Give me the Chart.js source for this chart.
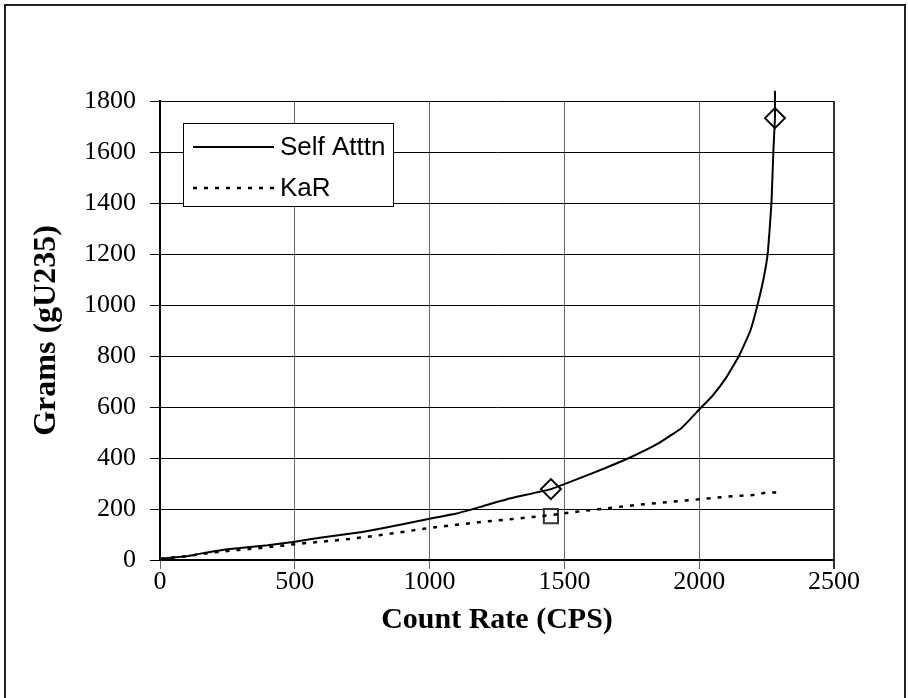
<!DOCTYPE html>
<html>
<head>
<meta charset="utf-8">
<script src="https://cdn.jsdelivr.net/npm/chart.js@4.4.1/dist/chart.umd.min.js"></script>
<style>
  body { margin: 0; background: #fff; }
  #wrap { position: relative; width: 908px; height: 698px; overflow: hidden; }
  #frame { position: absolute; left: 4px; top: 4px; width: 898px; height: 720px;
           border: 2px solid #222; border-bottom: none; }
  canvas { position: absolute; left: 0; top: 0; }
</style>
</head>
<body>
<div id="wrap">
  <div id="frame"></div>
  <canvas id="lineChart" width="908" height="698"></canvas>
</div>
<script>
// Self attenuation curve (count rate, grams)
var selfRate  = [0, 100, 150, 250, 400, 500, 600, 750, 900, 1000, 1100, 1200, 1300, 1450, 1550, 1650, 1750, 1850, 1935, 2000, 2050, 2100, 2150, 2190, 2215, 2240, 2255, 2268, 2275, 2281];
var selfGrams = [5, 15, 25, 42, 58, 72, 88, 110, 140, 162, 182, 212, 242, 278, 318, 360, 405, 458, 518, 590, 645, 715, 805, 900, 995, 1110, 1210, 1400, 1600, 1733];

// KaR curve
var karRate  = [0, 100, 200, 300, 400, 500, 600, 700, 800, 900, 1000, 1100, 1200, 1300, 1450, 1550, 1650, 1750, 1850, 2000, 2100, 2200, 2250, 2310];
var karGrams = [5, 15, 30, 40, 50, 62, 72, 82, 95, 110, 126, 138, 150, 160, 176, 190, 202, 214, 224, 238, 248, 255, 265, 265];

// marked points
var diamondRate  = [1450, 2281];
var diamondGrams = [278, 1733];
var squareRate  = [1450];
var squareGrams = [172];
// error bar above the top diamond
var barRate  = [2281, 2281];
var barGrams = [1733, 1840];

var xTicks = [0, 500, 1000, 1500, 2000, 2500];

function pts(xs, ys) {
    var out = [];
    for (var i = 0; i < xs.length; i++) {
        out.push({x: xs[i], y: ys[i]});
    }
    return out;
}

var serif = '"Liberation Serif", "Times New Roman", serif';

// legend box drawn inside the plot, like the original
const boxLegend = {
    id: 'boxLegend',
    afterDraw(chart) {
        const ctx = chart.ctx;
        ctx.save();
        ctx.fillStyle = '#fff';
        ctx.fillRect(183, 123, 211, 84);
        ctx.strokeStyle = '#000';
        ctx.lineWidth = 1;
        ctx.strokeRect(183.5, 123.5, 210, 83);

        ctx.lineWidth = 2;
        ctx.beginPath();
        ctx.moveTo(193, 147);
        ctx.lineTo(274, 147);
        ctx.stroke();

        ctx.setLineDash([4, 7]);
        ctx.lineWidth = 2.5;
        ctx.beginPath();
        ctx.moveTo(193, 188);
        ctx.lineTo(274, 188);
        ctx.stroke();
        ctx.setLineDash([]);

        ctx.fillStyle = '#000';
        ctx.font = '26px "Liberation Sans", Arial, sans-serif';
        ctx.textBaseline = 'middle';
        ctx.fillText('Self Atttn', 280, 148);
        ctx.fillText('KaR', 280, 189);
        ctx.restore();
    }
};

const data = {
    datasets: [{
        label: 'Self Atttn',
        data: pts(selfRate, selfGrams),
        showLine: true,
        borderColor: '#000',
        borderWidth: 2,
        pointRadius: 0,
        tension: 0.1,
        fill: false
    }, {
        label: 'KaR',
        data: pts(karRate, karGrams),
        showLine: true,
        borderColor: '#000',
        borderWidth: 2.5,
        borderDash: [4, 7],
        pointRadius: 0,
        tension: 0,
        fill: false
    }, {
        label: 'bar',
        data: pts(barRate, barGrams),
        showLine: true,
        borderColor: '#000',
        borderWidth: 2,
        pointRadius: 0,
        clip: false
    }, {
        label: 'diamonds',
        data: pts(diamondRate, diamondGrams),
        showLine: false,
        pointStyle: 'rectRot',
        pointRadius: 10,
        pointBackgroundColor: '#fff',
        pointBorderColor: '#000',
        pointBorderWidth: 2
    }, {
        label: 'square',
        data: pts(squareRate, squareGrams),
        showLine: false,
        pointStyle: 'rect',
        pointRadius: 10,
        pointBackgroundColor: '#fff',
        pointBorderColor: '#333',
        pointBorderWidth: 2
    }]
};

const config = {
    type: 'scatter',
    data: data,
    options: {
        responsive: false,
        animation: false,
        layout: { padding: { top: 101, right: 74, left: 0, bottom: 0 } },
        plugins: { legend: { display: false }, tooltip: { enabled: false } },
        scales: {
            x: {
                type: 'linear',
                min: 0,
                max: 2500,
                afterBuildTicks: function(scale) {
                    scale.ticks = xTicks.map(function(v){ return {value: v}; });
                },
                afterFit: function(scale) {
                    scale.height = 138;
                    scale.paddingLeft = 0;
                    scale.paddingRight = 0;
                },
                grid: {
                    color: function(c) { return c.tick && c.tick.value === 2500 ? '#333' : '#666'; },
                    lineWidth: function(c) { return c.tick && c.tick.value === 2500 ? 2 : 1; },
                    tickLength: 9
                },
                border: { color: '#000', width: 2 },
                ticks: {
                    color: '#000',
                    padding: -2,
                    callback: function(v) { return String(v); },
                    font: { family: serif, size: 26 }
                },
                title: {
                    display: true,
                    text: 'Count Rate (CPS)',
                    color: '#000',
                    padding: { top: 0, bottom: 60 },
                    font: { family: serif, size: 30, weight: 'bold' }
                }
            },
            y: {
                min: 0,
                max: 1800,
                ticks: {
                    stepSize: 200,
                    color: '#000',
                    padding: 14,
                    callback: function(v) { return String(v); },
                    font: { family: serif, size: 26 }
                },
                afterFit: function(scale) {
                    scale.width = 160;
                    scale.paddingTop = 0;
                    scale.paddingBottom = 0;
                },
                grid: { color: '#000', lineWidth: 1, tickLength: 10 },
                border: { color: '#000', width: 2 },
                title: {
                    display: true,
                    text: 'Grams (gU235)',
                    color: '#000',
                    padding: { top: 28, bottom: 0 },
                    font: { family: serif, size: 32, weight: 'bold' }
                }
            }
        }
    },
    plugins: [boxLegend]
};

const lineChart = new Chart(
    document.getElementById('lineChart'),
    config
);
</script>
</body>
</html>
